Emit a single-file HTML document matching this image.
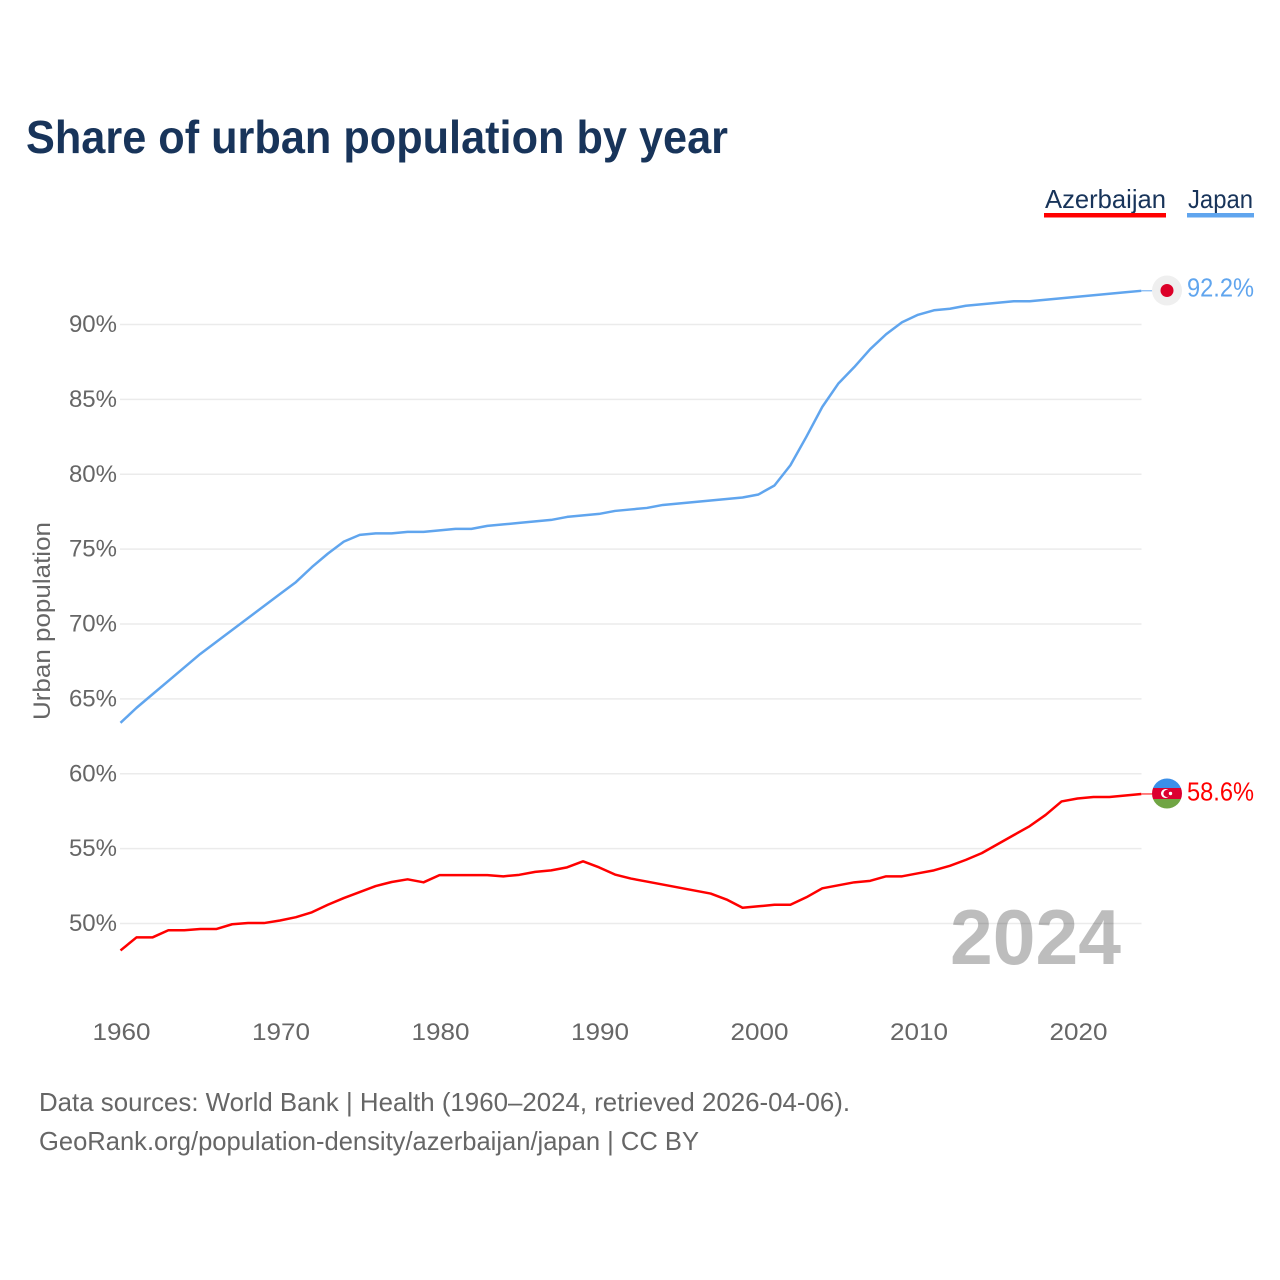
<!DOCTYPE html>
<html lang="en">
<head>
<meta charset="utf-8">
<title>Share of urban population by year</title>
<style>
html,body{margin:0;padding:0;background:#fff;}
svg{display:block;font-family:"Liberation Sans",sans-serif;}
</style>
</head>
<body>
<svg id="chart" xmlns="http://www.w3.org/2000/svg" width="1280" height="1280" viewBox="0 0 1280 1280">
  <rect x="0" y="0" width="1280" height="1280" fill="#ffffff"/>
  <text x="26" y="153" font-size="46" font-weight="700" fill="#18345a" textLength="702" lengthAdjust="spacingAndGlyphs">Share of urban population by year</text>

  <g>
    <text x="1045" y="208" font-size="26" fill="#18345a" textLength="121" lengthAdjust="spacingAndGlyphs">Azerbaijan</text>
    <rect x="1044" y="213" width="122" height="4.5" fill="#ff0000"/>
  </g>
  <g>
    <text x="1188" y="208" font-size="26" fill="#18345a" textLength="65" lengthAdjust="spacingAndGlyphs">Japan</text>
    <rect x="1187" y="213" width="67" height="4.5" fill="#60a5ee"/>
  </g>

  <g id="grid"></g>
  <g id="yticks"></g>
  <g id="xticks"></g>
  <text transform="translate(50,621) rotate(-90)" text-anchor="middle" font-size="24" fill="#666666" textLength="198" lengthAdjust="spacingAndGlyphs">Urban population</text>

  <text x="950" y="964" font-size="78" font-weight="700" fill="#000000" fill-opacity="0.26" textLength="171" lengthAdjust="spacingAndGlyphs">2024</text>

  <g id="series"></g>

  <g id="japan-end">
    <circle cx="1167" cy="290.5" r="15" fill="#efefef"/>
    <circle cx="1167" cy="290.5" r="6.5" fill="#dc0028"/>
    <text id="japan-value" x="1187" y="296.5" font-size="26" fill="#60a5ee" textLength="67" lengthAdjust="spacingAndGlyphs"></text>
  </g>
  <defs>
    <clipPath id="az-clip"><circle cx="1167" cy="793.5" r="15"/></clipPath>
  </defs>
  <g id="az-end">
    <g clip-path="url(#az-clip)">
      <rect x="1150" y="778" width="34" height="10" fill="#3b8fe8"/>
      <rect x="1150" y="788" width="34" height="11" fill="#dc0030"/>
      <rect x="1150" y="799" width="34" height="11" fill="#70a544"/>
      <circle cx="1165.5" cy="793.5" r="4.5" fill="#ffffff"/>
      <circle cx="1167" cy="793.5" r="3.6" fill="#dc0030"/>
      <circle cx="1170.5" cy="793.5" r="1.7" fill="#ffffff"/>
    </g>
    <text id="az-value" x="1187" y="800.5" font-size="26" fill="#ff0000" textLength="67" lengthAdjust="spacingAndGlyphs"></text>
  </g>

  <text x="39" y="1111" font-size="26" fill="#666666" textLength="811" lengthAdjust="spacingAndGlyphs">Data sources: World Bank | Health (1960–2024, retrieved 2026-04-06).</text>
  <text x="39" y="1150" font-size="26" fill="#666666" textLength="660" lengthAdjust="spacingAndGlyphs">GeoRank.org/population-density/azerbaijan/japan | CC BY</text>
</svg>
<script>
var startYear = 1960;
var yTickValues = [50, 55, 60, 65, 70, 75, 80, 85, 90];
var xTickYears = [1960, 1970, 1980, 1990, 2000, 2010, 2020];
var azerbaijanValues = [48.2,49.07,49.07,49.55,49.55,49.63,49.63,49.95,50.03,50.03,50.2,50.42,50.75,51.25,51.7,52.1,52.5,52.77,52.95,52.75,53.23,53.23,53.23,53.23,53.15,53.25,53.45,53.55,53.75,54.15,53.75,53.27,53.0,52.8,52.6,52.4,52.2,52.0,51.6,51.05,51.15,51.25,51.25,51.75,52.35,52.55,52.75,52.85,53.15,53.15,53.35,53.55,53.85,54.25,54.7,55.3,55.9,56.5,57.25,58.15,58.35,58.45,58.45,58.55,58.65];
var japanValues = [63.4,64.4,65.3,66.2,67.1,68.0,68.8,69.6,70.4,71.2,72.0,72.8,73.8,74.7,75.5,75.95,76.05,76.05,76.15,76.15,76.25,76.35,76.35,76.55,76.65,76.75,76.85,76.95,77.15,77.25,77.35,77.55,77.65,77.75,77.95,78.05,78.15,78.25,78.35,78.45,78.65,79.25,80.6,82.5,84.5,86.05,87.15,88.35,89.35,90.15,90.65,90.95,91.05,91.25,91.35,91.45,91.55,91.55,91.65,91.75,91.85,91.95,92.05,92.15,92.25];
var azerbaijanLabel = "58.6%";
var japanLabel = "92.2%";

var NS = "http://www.w3.org/2000/svg";
function xScale(year){ return 120.5 + (year - 1960) * 15.95; }
function yScale(v){ return 923.5 - (v - 50) * 14.975; }
function make(tag, attrs, parent){
  var el = document.createElementNS(NS, tag);
  for (var k in attrs) el.setAttribute(k, attrs[k]);
  parent.appendChild(el);
  return el;
}

var grid = document.getElementById("grid");
var yticks = document.getElementById("yticks");
var xticks = document.getElementById("xticks");
var series = document.getElementById("series");

yTickValues.forEach(function(v){
  var line = make("line", {x1:120, x2:1141.5, y1:yScale(v), y2:yScale(v), stroke:"#ebebeb", "stroke-width":1.5}, grid);
  
  
  var t = make("text", {x:117, y:yScale(v)+7.5, "text-anchor":"end", "font-size":24, fill:"#666666"}, yticks);
  
  
  t.textContent = v + "%";
});

xTickYears.forEach(function(yr){
  var t = make("text", {x:xScale(yr)+1, y:1040, "text-anchor":"middle", "font-size":24, fill:"#666666", textLength:58, lengthAdjust:"spacingAndGlyphs"}, xticks);
  
  
  t.textContent = yr;
});

function drawSeries(values, color, name){
  var pts = values.map(function(v, i){
    return xScale(startYear + i).toFixed(2) + "," + yScale(v).toFixed(2);
  }).join(" ");
  var line = make("polyline", {points:pts, fill:"none", stroke:color, "stroke-width":2.5, "stroke-linejoin":"round"}, series);
  
  
  var lastYear = startYear + values.length - 1;
  var lastV = values[values.length - 1];
  var lead = make("line", {x1:xScale(lastYear), x2:xScale(lastYear)+11, y1:yScale(lastV), y2:yScale(lastV), stroke:color, "stroke-width":1}, series);
  
  
}
drawSeries(japanValues, "#60a5ee", "line-japan");
drawSeries(azerbaijanValues, "#ff0000", "line-azerbaijan");

document.getElementById("japan-value").textContent = japanLabel;
document.getElementById("az-value").textContent = azerbaijanLabel;
</script>
</body>
</html>
